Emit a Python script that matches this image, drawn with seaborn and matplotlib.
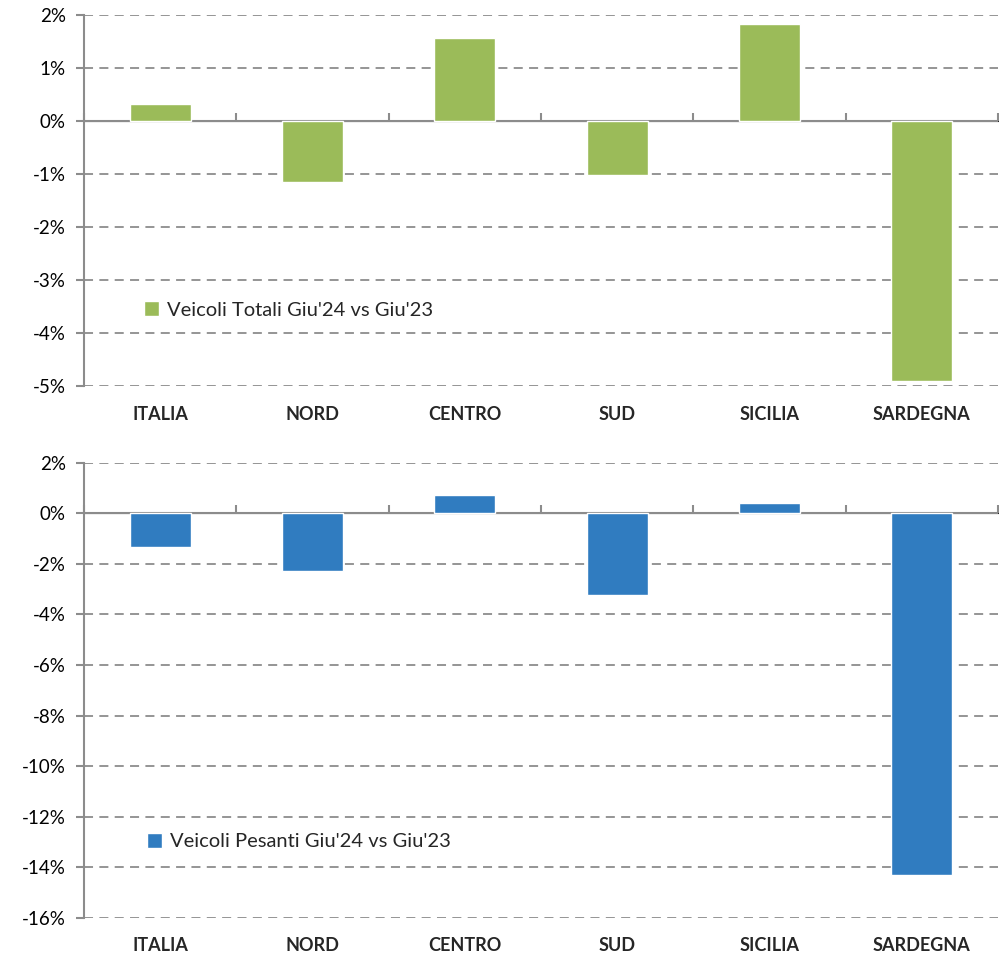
import numpy as np
import pandas as pd
import matplotlib
matplotlib.use("Agg")
import matplotlib.pyplot as plt
import seaborn as sns
from matplotlib.ticker import FuncFormatter

# Dati (variazioni %)
regioni = ["ITALIA", "NORD", "CENTRO", "SUD", "SICILIA", "SARDEGNA"]
totali = [0.32, -1.15, 1.58, -1.02, 1.83, -4.90]
pesanti = [-1.32, -2.30, 0.73, -3.22, 0.42, -14.30]
lab_totali = "Veicoli Totali Giu'24 vs Giu'23"
lab_pesanti = "Veicoli Pesanti Giu'24 vs Giu'23"

sns.set_style("white")
plt.rcParams['font.family'] = ['Lato', 'DejaVu Sans']

fig = plt.figure(figsize=(9.99, 9.58), dpi=100)
ax1 = fig.add_axes([0.084, 0.597, 0.915, 0.387])
ax2 = fig.add_axes([0.084, 0.042, 0.915, 0.475])

gray = "#8c8c8c"


def disegna(ax, valori, colore, etichetta, ymin, ymax, passo, leg_xy):
    df = pd.DataFrame({"regione": regioni, "valore": valori})
    sns.barplot(data=df, x="regione", y="valore", color=colore, width=0.4,
                saturation=1, ax=ax, label=etichetta, zorder=3)
    ax.set_xlim(-0.5, len(regioni) - 0.5)
    ax.set_ylim(ymin, ymax)
    ax.set_yticks(np.arange(ymin, ymax + passo / 2, passo))
    ax.yaxis.set_major_formatter(FuncFormatter(lambda v, p: f"{v:.0f}%"))
    ax.grid(axis="y", color=gray, linestyle=(0, (5, 3.5)), linewidth=1.3)
    ax.set_axisbelow(True)
    ax.set_xlabel("")
    ax.set_ylabel("")
    for s in ["top", "right", "bottom"]:
        ax.spines[s].set_visible(False)
    ax.spines["left"].set_color(gray)
    ax.spines["left"].set_linewidth(1.5)
    ax.tick_params(axis="y", length=6, width=1.5, color=gray, labelsize=13.5,
                   labelcolor="black", pad=7, left=True)
    ax.tick_params(axis="x", length=0, labelsize=13, pad=14)
    for t in ax.get_xticklabels():
        t.set_fontweight("bold")
    # asse a zero con tacche ai confini delle categorie
    ax.axhline(0, color=gray, linewidth=1.5, zorder=2.5)
    zero = ax.secondary_xaxis((0 - ymin) / (ymax - ymin))
    zero.set_xticks(np.arange(-0.5, len(regioni), 1.0))
    zero.set_xticklabels([])
    zero.spines["bottom"].set_visible(False)
    zero.tick_params(length=6, width=1.5, color=gray, direction="out")
    ax.legend(loc="center left", bbox_to_anchor=leg_xy, frameon=False,
              fontsize=14.5, handlelength=0.75, handleheight=0.75,
              handletextpad=0.4, borderaxespad=0)


disegna(ax1, totali, "#9BBB59", lab_totali, -5, 2, 1, (0.057, 0.205))
disegna(ax2, pesanti, "#307CC0", lab_pesanti, -16, 2, 2, (0.060, 0.167))

fig.savefig("out.png", dpi=100)
